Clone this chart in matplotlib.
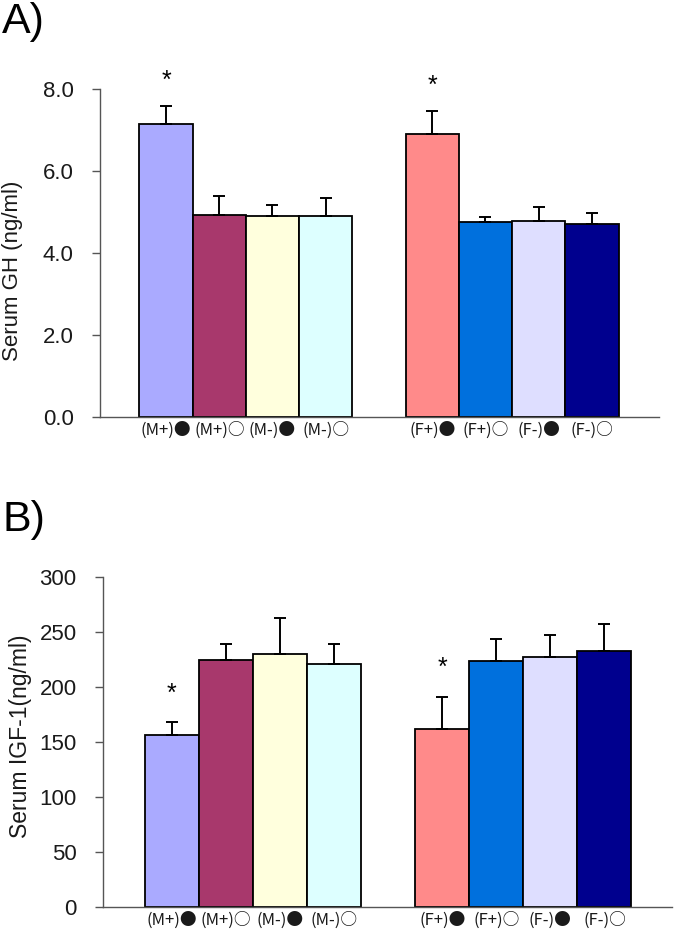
import matplotlib
matplotlib.use("Agg")
import matplotlib.pyplot as plt
import numpy as np

plt.rcParams['font.family'] = ['Liberation Sans', 'DejaVu Sans']

groups = ["(M+)●", "(M+)○", "(M-)●", "(M-)○", "(F+)●", "(F+)○", "(F-)●", "(F-)○"]
colors = ["#AAAAFF", "#A8386C", "#FFFFDD", "#DDFFFF", "#FF8A8A", "#0070DD", "#DEDEFF", "#00008E"]

gh_mean = [7.15, 4.93, 4.90, 4.90, 6.90, 4.75, 4.78, 4.71]
gh_err = [0.44, 0.47, 0.26, 0.45, 0.56, 0.14, 0.35, 0.27]
gh_ticks = [0.0, 2.0, 4.0, 6.0, 8.0]

igf_mean = [156, 225, 230, 221, 162, 224, 227, 233]
igf_err = [12, 14, 33, 18, 29, 20, 20, 24]
igf_ticks = [0, 50, 100, 150, 200, 250, 300]

sig_idx = [0, 4]

positions = [0, 1, 2, 3, 5, 6, 7, 8]

fig = plt.figure(figsize=(6.75, 9.39), dpi=100)

def panel(rect, means, errs, ticks, fmt, ylabel, xlim, lab_coords, star_off, ylfs):
    ax = fig.add_axes(rect)
    ax.bar(positions, means, width=1.0, color=colors, edgecolor='black', linewidth=1.3, zorder=2)
    ax.errorbar(positions, means, yerr=[np.zeros(len(means)), errs], fmt='none',
                ecolor='black', elinewidth=1.4, capsize=4.5, capthick=1.4, zorder=3)
    ax.set_xlim(*xlim)
    ax.set_ylim(ticks[0], ticks[-1])
    ax.set_yticks(ticks)
    ax.set_yticklabels([fmt.format(t) for t in ticks], fontsize=16, color='#1a1a1a')
    ax.set_xticks(positions)
    ax.set_xticklabels(groups, fontsize=12, color='#1a1a1a',
                       family=['Noto Sans CJK JP', 'DejaVu Sans'])
    ax.tick_params(axis='x', length=0, pad=3)
    ax.tick_params(axis='y', length=6, width=1, pad=13, color='#555555', direction='out')
    for s in ['top', 'right']:
        ax.spines[s].set_visible(False)
    ax.spines['left'].set_color('#555555')
    ax.spines['bottom'].set_color('#555555')
    ax.spines['left'].set_linewidth(1)
    ax.spines['bottom'].set_linewidth(1)
    ax.set_ylabel(ylabel, fontsize=ylfs, color='#1a1a1a')
    ax.yaxis.set_label_coords(*lab_coords)
    for i in sig_idx:
        ax.text(positions[i], means[i] + errs[i] + star_off, "*", ha='center', va='center',
                fontsize=18, clip_on=False)
    return ax

panel([100/675, 1 - 417/939, 559/675, 328/939], gh_mean, gh_err, gh_ticks, "{:.1f}",
      "Serum GH (ng/ml)", (-1.24, 9.26), (-0.138, 0.445), 0.62, 16)
panel([103/675, 1 - 907/939, 569/675, 330/939], igf_mean, igf_err, igf_ticks, "{:d}",
      "Serum IGF-1(ng/ml)", (-1.27, 9.25), (-0.125, 0.518), 26, 16.5)

fig.text(2/675, 1 - 2/939, "A)", fontsize=31, ha='left', va='top')
fig.text(3/675, 1 - 500/939, "B)", fontsize=31, ha='left', va='top')

fig.savefig("out.png", dpi=100)
